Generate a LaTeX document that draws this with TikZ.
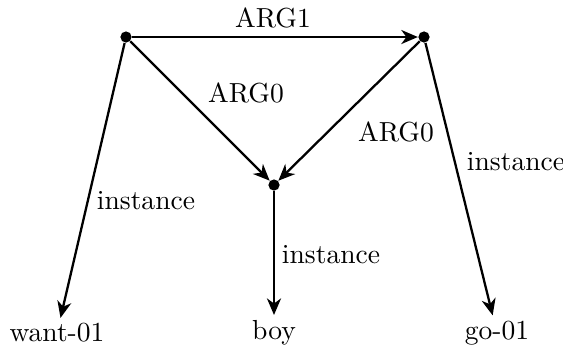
\documentclass[tikz,border=0pt]{standalone}
\usetikzlibrary{arrows.meta}
\begin{document}
\begin{tikzpicture}[x=0.392pt,y=-0.392pt,
  every node/.style={font=\fontsize{10.8}{13}\selectfont},
  dot/.style={circle,fill=black,inner sep=0pt,minimum size=4.4pt},
  lbl/.style={inner sep=2pt},
  edge/.style={-{Stealth[length=6.5pt,width=5.5pt,inset=2pt]},line width=0.9pt}]
\useasboundingbox (0,0) rectangle (563,348);
\node[dot] (a) at (126,37) {};
\node[dot] (b) at (424,37) {};
\node[dot] (c) at (274,185) {};
\node[lbl] (w) at (57,333) {want-01};
\node[lbl] (y) at (274,333) {boy};
\node[lbl] (g) at (497,333) {go-01};
\draw[edge] (a) -- (b);
\draw[edge] (a) -- (c);
\draw[edge] (b) -- (c);
\draw[edge] (a) -- (w);
\draw[edge] (c) -- (y);
\draw[edge] (b) -- (g);
\node (l1) at (273,18) {ARG1};
\node (l2) at (246,93) {ARG0};
\node (l3) at (396,132) {ARG0};
\node (l4) at (146,201) {instance};
\node (l5) at (516,162) {instance};
\node (l6) at (331,255) {instance};
\end{tikzpicture}
\end{document}
